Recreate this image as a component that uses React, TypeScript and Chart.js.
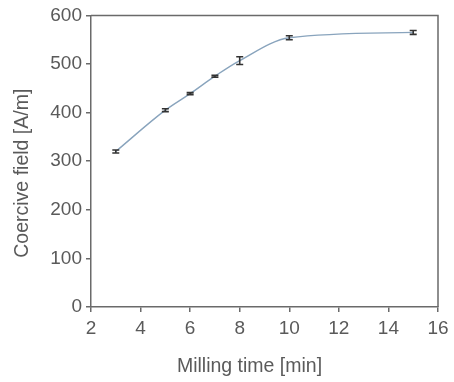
import React, { useEffect, useRef } from "react";
import { Chart, registerables } from "chart.js";

Chart.register(...registerables);

// Milling time (min) vs. coercive field (A/m), with measurement spread
const millingTime = [3, 5, 6, 7, 8, 10, 15];
const coerciveField = [320, 405, 439, 475, 507, 554, 565];
const fieldError = [3, 3, 2, 2, 8, 4, 4];
const xTicks = [2, 4, 6, 8, 10, 12, 14, 16];
const yTicks = [0, 100, 200, 300, 400, 500, 600];
const xTitle = "Milling time [min]";
const yTitle = "Coercive field [A/m]";

const TEXT = "#5a5a5a";
const AXIS = "#6a6a6a";
const FONT = "'Liberation Sans', Arial, sans-serif";

// Box frame, error bars with caps, and the two axis titles
const framePlugin = {
  id: "frameAndErrors",
  afterDatasetsDraw(chart: any) {
    const { ctx, chartArea, scales } = chart;
    ctx.save();
    ctx.strokeStyle = AXIS;
    ctx.lineWidth = 1.5;
    ctx.beginPath();
    ctx.moveTo(chartArea.left, chartArea.top);
    ctx.lineTo(chartArea.right, chartArea.top);
    ctx.lineTo(chartArea.right, chartArea.bottom);
    ctx.stroke();

    ctx.strokeStyle = "#333";
    ctx.lineWidth = 1.6;
    millingTime.forEach((t, i) => {
      const x = scales.x.getPixelForValue(t);
      const yHi = scales.y.getPixelForValue(coerciveField[i] + fieldError[i]);
      const yLo = scales.y.getPixelForValue(coerciveField[i] - fieldError[i]);
      const cap = 3.5;
      ctx.beginPath();
      ctx.moveTo(x, yHi);
      ctx.lineTo(x, yLo);
      ctx.moveTo(x - cap, yHi);
      ctx.lineTo(x + cap, yHi);
      ctx.moveTo(x - cap, yLo);
      ctx.lineTo(x + cap, yLo);
      ctx.stroke();
    });

    ctx.fillStyle = TEXT;
    ctx.font = `19.5px ${FONT}`;
    ctx.textAlign = "center";
    ctx.textBaseline = "middle";
    ctx.fillText(xTitle, (chartArea.left + chartArea.right) / 2 - 15, chartArea.bottom + 60);
    ctx.translate(chartArea.left - 68, (chartArea.top + chartArea.bottom) / 2 + 12);
    ctx.rotate(-Math.PI / 2);
    ctx.fillText(yTitle, 0, 0);
    ctx.restore();
  },
};

export default function App() {
  const canvasRef = useRef<HTMLCanvasElement | null>(null);

  useEffect(() => {
    if (!canvasRef.current) return;
    const chart = new Chart(canvasRef.current, {
      type: "line",
      data: {
        datasets: [
          {
            data: millingTime.map((t, i) => ({ x: t, y: coerciveField[i] })),
            borderColor: "#89a4bd",
            borderWidth: 1.4,
            pointRadius: 0,
            cubicInterpolationMode: "monotone",
            fill: false,
          },
        ],
      },
      options: {
        responsive: false,
        animation: false,
        layout: { padding: { left: 0, top: 15, right: 16, bottom: 0 } },
        plugins: { legend: { display: false }, tooltip: { enabled: false } },
        scales: {
          x: {
            type: "linear",
            min: 2,
            max: 16,
            afterBuildTicks: (s: any) => {
              s.ticks = xTicks.map((v) => ({ value: v }));
            },
            afterFit: (s: any) => {
              s.height = 75;
            },
            ticks: { color: TEXT, font: { family: FONT, size: 19 }, padding: 5, maxRotation: 0 },
            grid: { drawOnChartArea: false, drawTicks: true, tickLength: 5, color: AXIS, lineWidth: 1.5 },
            border: { display: true, color: AXIS, width: 1.5 },
          },
          y: {
            type: "linear",
            min: 0,
            max: 600,
            afterBuildTicks: (s: any) => {
              s.ticks = yTicks.map((v) => ({ value: v }));
            },
            afterFit: (s: any) => {
              s.width = 91;
            },
            ticks: { color: TEXT, font: { family: FONT, size: 19 }, padding: 4 },
            grid: { drawOnChartArea: false, drawTicks: true, tickLength: 5, color: AXIS, lineWidth: 1.5 },
            border: { display: true, color: AXIS, width: 1.5 },
          },
        },
      },
      plugins: [framePlugin],
    } as any);
    return () => chart.destroy();
  }, []);

  return (
    <div style={{ position: "fixed", left: 0, top: 0, width: 454, height: 382, background: "#fff" }}>
      <canvas ref={canvasRef} width={454} height={382} />
    </div>
  );
}
